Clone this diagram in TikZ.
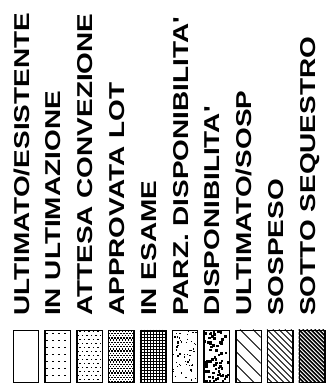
\documentclass[tikz,border=0pt]{standalone}
\usepackage{fontspec}
\setmainfont{Liberation Sans}
\usetikzlibrary{positioning}

\begin{document}
\begin{tikzpicture}[x=1pt, y=-1pt,
		legbox/.style={draw, line width=1.4pt, minimum width=25.5pt, minimum height=52.5pt, inner sep=0pt, anchor=north west},
		legtext/.style={rotate=90, anchor=base west, inner sep=0pt, font=\bfseries\fontsize{21.5}{22}\selectfont},
		hatch/.style={line width=1pt}]
		\useasboundingbox (0, 0) rectangle (327, 385);

		\foreach \lbl [count=\i from 0] in {ULTIMATO/ESISTENTE, IN ULTIMAZIONE, ATTESA CONVEZIONE, APPROVATA LOT, IN ESAME, PARZ. DISPONIBILITA\textquotesingle, DISPONIBILITA\textquotesingle, ULTIMATO/SOSP, SOSPESO, SOTTO SEQUESTRO} {
			\node (box\i) [legbox] at ({12.5 + 31.8*\i}, 329.5) {};
			\node (txt\i) [legtext] at ({29 + 31.8*\i}, 316) {\scalebox{1.3}[1]{\lbl}};
		}

		% sparse dots
		\begin{scope}[shift={(box1.north west)}]
			\clip (0, 0) rectangle (25.5, 52.5);
			\foreach \px in {2, 8, ..., 26}
				\foreach \py in {3, 10, ..., 53}
					\fill (\px, \py) rectangle +(1.4, 1.4);
		\end{scope}

		% staggered dots
		\begin{scope}[shift={(box2.north west)}]
			\clip (0, 0) rectangle (25.5, 52.5);
			\foreach \py [count=\r] in {1.5, 5.5, ..., 53}
				\foreach \px in {1, 5.5, ..., 26}
					\fill ({\px + mod(\r, 2)*2.2}, \py) rectangle +(1.4, 1.4);
		\end{scope}

		% dense dots
		\begin{scope}[shift={(box3.north west)}]
			\clip (0, 0) rectangle (25.5, 52.5);
			\foreach \py [count=\r] in {1, 3.2, ..., 53}
				\foreach \px in {0.5, 3.5, ..., 26}
					\fill ({\px + mod(\r, 2)*1.5}, \py) rectangle +(1.4, 1.4);
		\end{scope}

		% fine grid
		\begin{scope}[shift={(box4.north west)}]
			\clip (0, 0) rectangle (25.5, 52.5);
			\foreach \px in {1.5, 4.5, ..., 26}
				\draw[line width=0.35pt] (\px, 0) -- (\px, 52.5);
			\foreach \py in {1.5, 4.5, ..., 53}
				\draw[line width=0.35pt] (0, \py) -- (25.5, \py);
		\end{scope}

		% random dots
		\begin{scope}[shift={(box5.north west)}]
			\clip (0, 0) rectangle (25.5, 52.5);
			\pgfmathsetseed{11}
			\foreach \k in {1, ..., 55}
				\fill ({rnd*24}, {rnd*51}) rectangle +(1.4, 1.4);
		\end{scope}

		% random squares
		\begin{scope}[shift={(box6.north west)}]
			\clip (0, 0) rectangle (25.5, 52.5);
			\pgfmathsetseed{5}
			\foreach \k in {1, ..., 70}
				\fill ({rnd*24}, {rnd*51}) rectangle +(2.6, 2.6);
		\end{scope}

		% diagonal lines
		\foreach \n/\gap/\lw in {7/13/0.9, 8/6/0.9, 9/4/1.5} {
			\begin{scope}[shift={(box\n.north west)}]
				\clip (0, 0) rectangle (25.5, 52.5);
				\foreach \k in {0, ..., 22}
					\draw[hatch, line width=\lw pt] ({\k*\gap - 60}, 0) -- ++(60, 60);
			\end{scope}
		}
	\end{tikzpicture}
\end{document}
